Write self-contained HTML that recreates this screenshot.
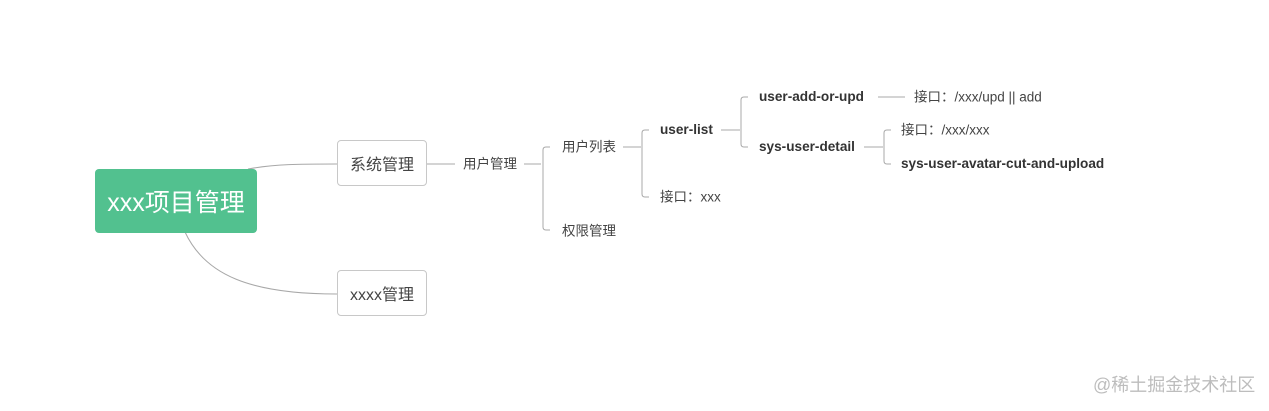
<!DOCTYPE html>
<html><head><meta charset="utf-8"><style>
html,body{margin:0;padding:0;background:#fff;width:1269px;height:411px;overflow:hidden;position:relative;font-family:"Liberation Sans","Noto Sans CJK SC",sans-serif;color:#333}
.t{position:absolute;white-space:nowrap;line-height:1;transform:translateY(-50%)}
.s{font-size:13.5px;color:#444}
.b{font-size:13.6px;font-weight:bold;color:#333}
.box{position:absolute;border:1px solid #c8c8c8;border-radius:4px;background:#fff;box-sizing:border-box;display:flex;align-items:center;justify-content:center;font-size:16px;color:#444}
</style></head><body>
<svg width="1269" height="411" style="position:absolute;left:0;top:0" fill="none" stroke="#a8a8a8" stroke-width="1">
<path d="M248 169 C275 164 300 164 337 164"/>
<path d="M185 232 C205 275 250 294 337 294"/>
<path d="M427 164 H455"/>
<path d="M524 164 H541"/>
<path d="M550 147 H546 Q543 147 543 150 V227 Q543 230 546 230 H550"/>
<path d="M623 147 H641"/>
<path d="M649 130 H645 Q642 130 642 133 V194 Q642 197 645 197 H649"/>
<path d="M721 130 H740"/>
<path d="M748 97 H744 Q741 97 741 100 V144 Q741 147 744 147 H748"/>
<path d="M878 97 H905"/>
<path d="M864 147 H883"/>
<path d="M891 130 H887 Q884 130 884 133 V161 Q884 164 887 164 H891"/>
</svg>
<div class="box" style="left:95px;top:169px;width:162px;height:64px;background:#52c18f;border:none;color:#fff;font-size:25px">xxx项目管理</div>
<div class="box" style="left:337px;top:140px;width:90px;height:46px">系统管理</div>
<div class="box" style="left:337px;top:270px;width:90px;height:46px">xxxx管理</div>
<div class="t s" style="left:463px;top:164px">用户管理</div>
<div class="t s" style="left:562px;top:147px">用户列表</div>
<div class="t s" style="left:562px;top:231px">权限管理</div>
<div class="t b" style="left:660px;top:130px">user-list</div>
<div class="t s" style="left:660px;top:197px">接口：xxx</div>
<div class="t b" style="left:759px;top:97px">user-add-or-upd</div>
<div class="t b" style="left:759px;top:147px">sys-user-detail</div>
<div class="t s" style="left:914px;top:97px">接口：/xxx/upd || add</div>
<div class="t s" style="left:901px;top:130px">接口：/xxx/xxx</div>
<div class="t b" style="left:901px;top:164px">sys-user-avatar-cut-and-upload</div>
<div class="t" style="left:1093px;top:385px;font-size:18px;color:#bdbdbd">@稀土掘金技术社区</div>
</body></html>
